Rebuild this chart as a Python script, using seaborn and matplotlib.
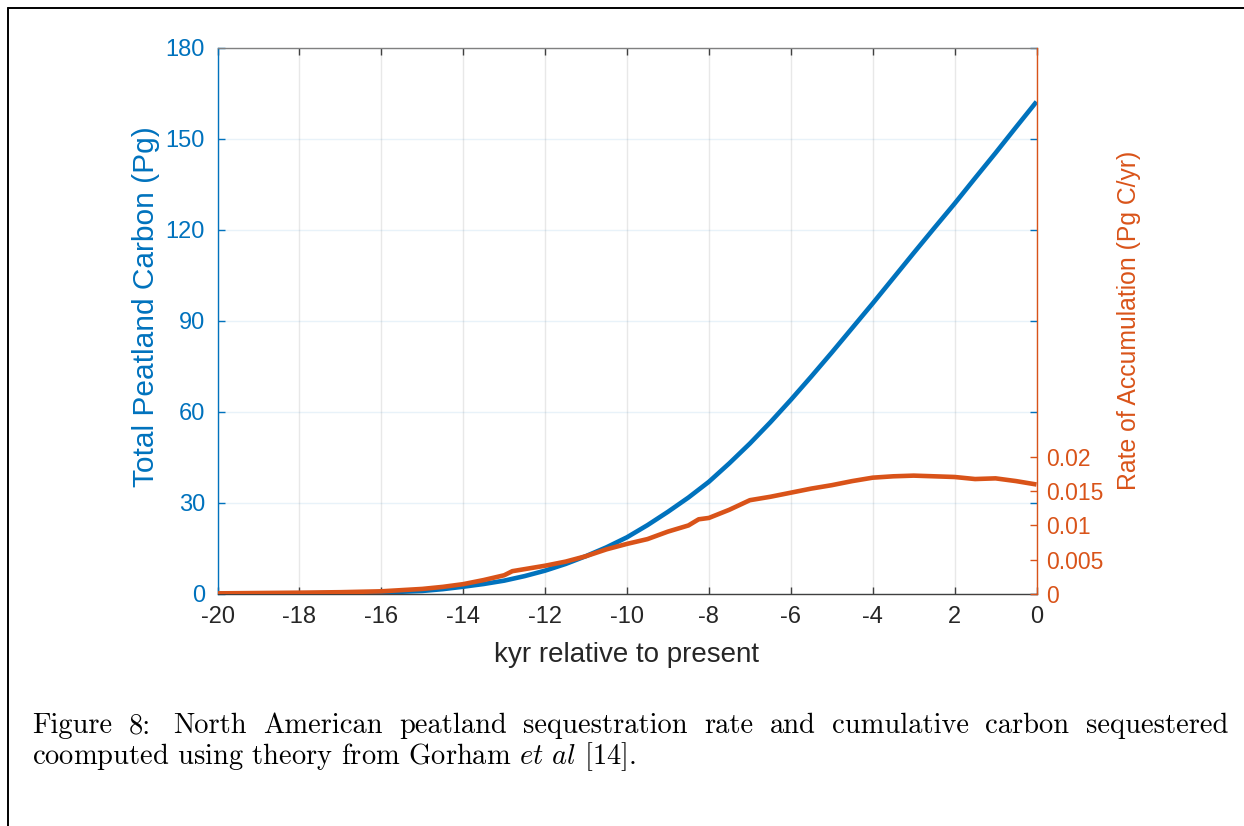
import numpy as np
import pandas as pd
import seaborn as sns
import matplotlib.pyplot as plt
from matplotlib.lines import Line2D

# Cumulative North American peatland carbon (Pg) by kyr relative to present
carbon_kyr = [-20, -19, -18, -17, -16, -15, -14.5, -14, -13.5, -13, -12.5, -12,
              -11.5, -11, -10.5, -10, -9.5, -9, -8.5, -8, -7.5, -7, -6.5, -6,
              -5.5, -5, -4.5, -4, -3.5, -3, -2.5, -2, -1.5, -1, -0.5, 0]
carbon_pg = [0.0, 0.05, 0.1, 0.2, 0.4, 0.9, 1.5, 2.3, 3.2, 4.3, 5.8, 7.6,
             9.8, 12.4, 15.3, 18.6, 22.6, 27.0, 31.7, 36.9, 43.0, 49.5, 56.5, 63.9,
             71.6, 79.5, 87.6, 95.7, 104.0, 112.3, 120.5, 128.6, 137.0, 145.3, 153.8, 162.2]

# Sequestration rate (Pg C / yr)
rate_kyr = [-20, -19, -18, -17, -16, -15, -14.5, -14, -13.5, -13, -12.8,
            -12.5, -12, -11.5, -11, -10.5, -10, -9.5, -9, -8.5, -8.25, -8,
            -7.5, -7, -6.5, -6, -5.5, -5, -4.5, -4, -3.5, -3, -2.5, -2,
            -1.5, -1, -0.5, 0]
rate_pg_yr = [0.00005, 0.0001, 0.00015, 0.00022, 0.00035, 0.0007, 0.001,
              0.0014, 0.002, 0.0027, 0.0033, 0.0036, 0.0041, 0.0047, 0.0055,
              0.0065, 0.0073, 0.0080, 0.0091, 0.0100, 0.0109, 0.0111, 0.0123,
              0.0137, 0.0142, 0.0148, 0.0154, 0.0159, 0.0165, 0.0170, 0.0172,
              0.0173, 0.0172, 0.0171, 0.0168, 0.0169, 0.0165, 0.0160]

xtick_values = [-20, -18, -16, -14, -12, -10, -8, -6, -4, -2, 0]
xtick_labels = ["-20", "-18", "-16", "-14", "-12", "-10", "-8", "-6", "-4", "2", "0"]
left_ticks = [0, 30, 60, 90, 120, 150, 180]
right_ticks = [0, 0.005, 0.01, 0.015, 0.02]
right_tick_labels = ["0", "0.005", "0.01", "0.015", "0.02"]

caption_line1 = "Figure 8:  North American peatland sequestration rate and cumulative carbon sequestered"
caption_line2 = r"coomputed using theory from Gorham $\mathit{et\ al}$ [14]."

BLUE = "#0072BD"
ORANGE = "#D95319"
DARK = "#262626"

sns.set_theme(style="white")
plt.rcParams["font.family"] = ["Liberation Sans", "DejaVu Sans"]
plt.rcParams["mathtext.fontset"] = "cm"

W, H = 1244, 826
fig = plt.figure(figsize=(W / 100, H / 100), dpi=100)
fig.patch.set_facecolor("white")

ax = fig.add_axes([217.5 / W, 1 - 593.7 / H, 819 / W, 546 / H])
ax2 = ax.twinx()

carbon_df = pd.DataFrame({"kyr": carbon_kyr, "carbon": carbon_pg})
rate_df = pd.DataFrame({"kyr": rate_kyr, "rate": rate_pg_yr})

sns.lineplot(data=carbon_df, x="kyr", y="carbon", ax=ax, color=BLUE, lw=3.3,
             solid_joinstyle="round", solid_capstyle="butt")
sns.lineplot(data=rate_df, x="kyr", y="rate", ax=ax2, color=ORANGE, lw=3.3,
             solid_joinstyle="round", solid_capstyle="butt")

ax.set_xlim(-20, 0)
ax.set_ylim(0, 180)
ax2.set_ylim(0, 0.08)

tick_fs = 17

ax.set_xticks(xtick_values)
ax.set_xticklabels(xtick_labels)
ax.set_yticks(left_ticks)
ax2.set_yticks(right_ticks)
ax2.set_yticklabels(right_tick_labels)

# grid: neutral vertical lines, faint blue horizontal lines
ax.grid(axis="x", color="#e8e8e8", lw=1.0)
ax.grid(axis="y", color=BLUE, alpha=0.09, lw=1.0)
ax2.grid(False)

ax.tick_params(axis="x", which="major", direction="in", length=5, width=1,
               color="#404040", labelcolor=DARK, labelsize=tick_fs, pad=9,
               top=True, bottom=True)
ax.tick_params(axis="y", which="major", direction="in", length=5, width=1,
               color=BLUE, labelcolor=BLUE, labelsize=tick_fs, pad=9,
               left=True, right=True, labelright=False)
ax2.tick_params(axis="y", which="major", direction="in", length=5, width=1,
                color=ORANGE, labelcolor=ORANGE, labelsize=tick_fs - 0.5, pad=7,
                left=False, right=True)

for name, sp in ax.spines.items():
    sp.set_linewidth(1.0)
ax.spines["left"].set_color(BLUE)
ax.spines["top"].set_color("#808080")
ax.spines["bottom"].set_color("#404040")
ax.spines["right"].set_visible(False)
for name in ["left", "top", "bottom"]:
    ax2.spines[name].set_visible(False)
ax2.spines["right"].set_color(ORANGE)
ax2.spines["right"].set_linewidth(1.0)

ax.set_xlabel("kyr relative to present", fontsize=20, color=DARK, labelpad=10)
ax.set_ylabel("Total Peatland Carbon (Pg)", fontsize=21.5, color=BLUE, labelpad=4)
ax.yaxis.label.set_y(0.525)
ax2.set_ylabel("Rate of Accumulation (Pg C/yr)", fontsize=17.8, color=ORANGE, labelpad=10)

# page frame lines
fig.add_artist(Line2D([8 / W, 1.0], [1 - 8 / H, 1 - 8 / H], transform=fig.transFigure,
                      color="black", lw=1.4))
fig.add_artist(Line2D([8 / W, 8 / W], [0.0, 1 - 8 / H], transform=fig.transFigure,
                      color="black", lw=1.4))

# caption, first line justified between the margins
cap_fs = 20.5
x_left, x_right = 32, 1228
fig.canvas.draw()
renderer = fig.canvas.get_renderer()
tokens = ["Figure", "8:", "North"] + caption_line1.split()[3:]
word_texts = [fig.text(0, 1 - 733 / H, t, fontsize=cap_fs, family="cmr10",
                       color="black", va="baseline") for t in tokens]
widths = [t.get_window_extent(renderer).width for t in word_texts]
gap = (x_right - x_left - sum(widths)) / (len(tokens) - 1 + 0.4)
x = x_left
for i, (t, w) in enumerate(zip(word_texts, widths)):
    t.set_x(x / W)
    x += w + gap + (0.4 * gap if tokens[i] == "8:" else 0)

fig.text(x_left / W, 1 - 764 / H, caption_line2, fontsize=cap_fs, family="cmr10",
         color="black", va="baseline")

fig.savefig("out.png", dpi=100, facecolor="white")
